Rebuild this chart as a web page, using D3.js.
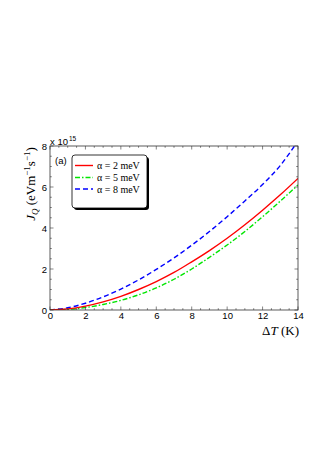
<!DOCTYPE html>
<html><head><meta charset="utf-8">
<script src="https://cdn.jsdelivr.net/npm/d3@7"></script>
<style>body{margin:0;background:#fff;} svg{display:block;}</style>
</head><body>
<svg id="c" width="332" height="470"></svg>
<script>
const deltaT = [0,1,2,3,4,5,6,7,8,9,10,11,12,13,14];
const jq_a2 = [0,0.054,0.19,0.395,0.665,1.0,1.385,1.83,2.35,2.9,3.5,4.16,4.87,5.62,6.42];
const jq_a5 = [0,0.03,0.12,0.27,0.47,0.74,1.08,1.5,2.0,2.57,3.17,3.83,4.55,5.31,6.1];
const jq_a8 = [0,0.107,0.33,0.64,1.02,1.47,1.98,2.54,3.16,3.83,4.55,5.32,6.12,7.05,8.25];
const seriesNames = ["α = 2 meV","α = 5 meV","α = 8 meV"];
const xTicks = [0,2,4,6,8,10,12,14];
const yTicks = [0,2,4,6,8];

const svg = d3.select("#c");
const L=50,R=298,T=146,B=310;
const x = d3.scaleLinear().domain([0,14]).range([L,R]);
const y = d3.scaleLinear().domain([0,8]).range([B,T]);

svg.append("defs").append("clipPath").attr("id","clip")
  .append("rect").attr("x",L).attr("y",T).attr("width",R-L).attr("height",B-T);

const series = [
  {name:seriesNames[0], v:jq_a2, color:"#ff0000", dash:null},
  {name:seriesNames[1], v:jq_a5, color:"#00e600", dash:"5,2,1.5,2"},
  {name:seriesNames[2], v:jq_a8, color:"#0000ff", dash:"5,3"}
];
const line = d3.line().x((d,i)=>x(deltaT[i])).y(d=>y(d)).curve(d3.curveMonotoneX);
const g = svg.append("g").attr("clip-path","url(#clip)");
series.slice().reverse().forEach(s=>{
  g.append("path").attr("d",line(s.v)).attr("fill","none").attr("stroke",s.color)
   .attr("stroke-width",1.4).attr("stroke-dasharray",s.dash);
});

// axes box
const axCol="#333";
svg.append("rect").attr("x",L).attr("y",T).attr("width",R-L).attr("height",B-T)
  .attr("fill","none").attr("stroke",axCol).attr("stroke-width",0.8);

// ticks
const xMinor = d3.range(0,14.01,0.5);
const yMinor = d3.range(0,8.01,0.5);
const tk = svg.append("g").attr("stroke",axCol).attr("stroke-width",0.6);
xMinor.forEach(v=>{
  const len = xTicks.includes(v)?3.5:1.8;
  tk.append("line").attr("x1",x(v)).attr("x2",x(v)).attr("y1",B).attr("y2",B-len);
  tk.append("line").attr("x1",x(v)).attr("x2",x(v)).attr("y1",T).attr("y2",T+len);
});
yMinor.forEach(v=>{
  const len = yTicks.includes(v)?3.5:1.8;
  tk.append("line").attr("y1",y(v)).attr("y2",y(v)).attr("x1",L).attr("x2",L+len);
  tk.append("line").attr("y1",y(v)).attr("y2",y(v)).attr("x1",R).attr("x2",R-len);
});

const sans = "Liberation Sans, Arial, sans-serif";
const serif = "Liberation Serif, Times New Roman, serif";
const xAxis = d3.axisBottom(x).tickValues(xTicks).tickSize(0).tickPadding(2);
const xa = svg.append("g").attr("transform",`translate(0,${B})`).call(xAxis);
xa.select(".domain").remove();
xa.selectAll("text").attr("font-family",sans).attr("font-size",9.5).attr("fill","#000");
const yAxis = d3.axisLeft(y).tickValues(yTicks).tickSize(0).tickPadding(3);
const ya = svg.append("g").attr("transform",`translate(${L},0)`).call(yAxis);
ya.select(".domain").remove();
ya.selectAll("text").attr("font-family",sans).attr("font-size",9.5).attr("fill","#000");

// exponent
const ex = svg.append("text").attr("x",50).attr("y",145).attr("font-family",sans).attr("font-size",9.5);
ex.append("tspan").text("x 10");
ex.append("tspan").attr("font-size",6.5).attr("dy",-4).attr("dx",1).text("15");

// y label
const yl = svg.append("text").attr("transform","translate(35,184) rotate(-90)")
  .attr("text-anchor","middle").attr("font-family",serif).attr("font-size",13);
yl.append("tspan").attr("font-style","italic").text("J");
yl.append("tspan").attr("font-style","italic").attr("font-size",9).attr("dy",3).text("Q");
yl.append("tspan").attr("dy",-3).text(" (eVm");
yl.append("tspan").attr("font-size",9).attr("dy",-5).text("−1");
yl.append("tspan").attr("dy",5).text("s");
yl.append("tspan").attr("font-size",9).attr("dy",-5).text("−1");
yl.append("tspan").attr("dy",5).text(")");

// x label
const xl = svg.append("text").attr("x",R+1).attr("y",335).attr("text-anchor","end")
  .attr("font-family",serif).attr("font-size",13);
xl.append("tspan").text("Δ");
xl.append("tspan").attr("font-style","italic").text("T");
xl.append("tspan").text(" (K)");

// (a)
svg.append("text").attr("x",55).attr("y",164).attr("font-family",sans).attr("font-size",9.5).text("(a)");

// legend
const lg = {x:72,y:155,w:75,h:53};
svg.append("rect").attr("x",lg.x+2).attr("y",lg.y+2).attr("width",lg.w).attr("height",lg.h)
  .attr("rx",3).attr("fill","#000");
svg.append("rect").attr("x",lg.x).attr("y",lg.y).attr("width",lg.w).attr("height",lg.h)
  .attr("rx",3).attr("fill","#fff").attr("stroke","#000").attr("stroke-width",0.8);
const rowY=[165.5,177.5,189];
series.forEach((s,i)=>{
  svg.append("line").attr("x1",lg.x+3).attr("x2",lg.x+21).attr("y1",rowY[i]).attr("y2",rowY[i])
    .attr("stroke",s.color).attr("stroke-width",1.4).attr("stroke-dasharray",s.dash);
  svg.append("text").attr("x",lg.x+25).attr("y",rowY[i]+3.5).attr("font-family",serif)
    .attr("font-size",10).text(s.name);
});
</script>
</body></html>
